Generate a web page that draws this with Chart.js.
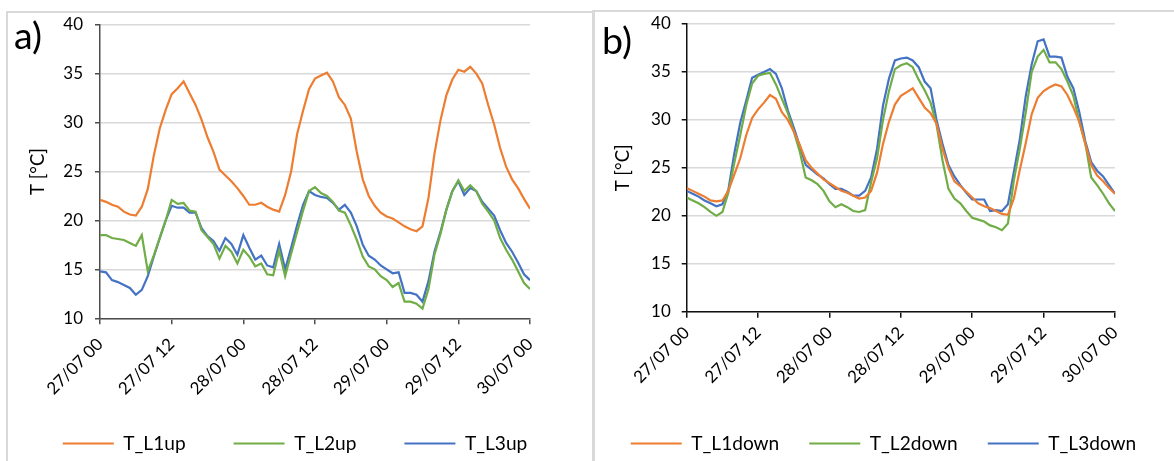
<!DOCTYPE html>
<html>
<head>
<meta charset="utf-8">
<script src="https://cdn.jsdelivr.net/npm/chart.js@4.4.1/dist/chart.umd.min.js"></script>
<style>
  html, body { margin:0; padding:0; width:1174px; height:461px; overflow:hidden; background:#fff; }
  .panel { position:absolute; border:2px solid #d9d9d9; box-sizing:border-box; }
  .tag { position:absolute; font-family:Lato, sans-serif; line-height:1; color:#000; }
  canvas { position:absolute; top:0; }
</style>
</head>
<body>
<div class="panel" style="left:6px;top:11px;width:589px;height:480px;"></div>
<div class="panel" style="left:592px;top:10px;width:600px;height:480px;"></div>
<canvas id="ca" width="590" height="463" style="left:0px;"></canvas>
<canvas id="cb" width="581" height="463" style="left:593px;"></canvas>
<div class="tag" id="ta" style="left:14px;top:16px;">a)</div>
<div class="tag" id="tb" style="left:602px;top:21px;">b)</div>
<script>
const hours = [];
for (let h = 0; h <= 72; h++) hours.push(h);
const tickLabels = ['27/07 00','27/07 12','28/07 00','28/07 12','29/07 00','29/07 12','30/07 00'];

const namesA = ['T_L1up','T_L2up','T_L3up'];
const namesB = ['T_L1down','T_L2down','T_L3down'];
const colors = ['#ED7D31','#70AD47','#4472C4'];

const T_L1up = [22.1,21.9,21.6,21.4,20.9,20.6,20.5,21.4,23.2,26.6,29.4,31.3,32.9,33.5,34.2,33.0,31.8,30.3,28.5,27.0,25.2,24.6,24.0,23.3,22.5,21.6,21.6,21.8,21.4,21.1,20.9,22.6,25.0,28.8,31.2,33.4,34.5,34.8,35.1,34.2,32.6,31.8,30.4,27.0,24.2,22.5,21.5,20.8,20.4,20.2,19.8,19.4,19.1,18.9,19.4,22.3,26.8,30.2,32.8,34.4,35.4,35.2,35.7,35.0,34.0,31.8,29.8,27.4,25.5,24.2,23.3,22.2,21.2];
const T_L2up = [18.5,18.5,18.2,18.1,18.0,17.7,17.4,18.5,14.8,16.4,18.2,20.0,22.1,21.7,21.8,21.0,20.9,19.0,18.3,17.6,16.1,17.4,16.8,15.6,17.0,16.3,15.3,15.6,14.5,14.4,16.9,14.3,16.6,18.8,21.0,23.0,23.4,22.8,22.5,21.9,21.0,20.8,19.5,18.0,16.3,15.3,15.0,14.3,13.9,13.2,13.6,11.7,11.7,11.5,11.0,13.0,16.5,18.6,21.1,23.0,24.1,23.0,23.6,23.0,21.7,20.9,20.0,18.2,17.0,16.0,14.8,13.6,13.0];
const T_L3up = [14.8,14.7,13.9,13.7,13.4,13.1,12.4,12.9,14.3,16.3,18.2,20.0,21.5,21.3,21.3,20.8,20.8,19.2,18.4,17.9,16.9,18.2,17.6,16.5,18.5,17.2,16.0,16.4,15.4,15.2,17.6,15.0,17.2,19.5,21.6,23.0,22.6,22.4,22.3,21.8,21.1,21.6,20.8,19.4,17.5,16.4,16.0,15.4,15.0,14.6,14.7,12.6,12.6,12.4,11.7,13.8,16.8,18.8,21.1,23.0,24.0,22.6,23.3,23.0,21.9,21.2,20.5,19.0,17.7,16.8,15.7,14.5,13.9];

const T_L1down = [22.9,22.6,22.3,22.0,21.6,21.5,21.6,22.6,24.3,26.0,28.4,30.2,31.1,31.8,32.6,32.2,30.8,30.0,28.8,27.4,25.8,25.0,24.4,23.8,23.4,23.0,22.6,22.4,22.1,21.8,21.9,22.6,24.5,27.5,29.8,31.6,32.5,32.9,33.3,32.3,31.3,30.7,29.6,27.0,25.0,23.6,23.1,22.5,21.9,21.3,21.0,20.8,20.5,20.2,20.1,21.8,24.8,27.6,30.6,32.3,33.0,33.4,33.7,33.5,32.6,31.3,29.8,27.5,25.3,24.2,23.6,22.9,22.3];
const T_L2down = [21.9,21.6,21.3,20.9,20.4,20.0,20.4,22.4,25.5,28.4,31.5,33.8,34.6,34.8,34.9,33.7,32.2,30.7,28.8,26.7,24.0,23.7,23.3,22.6,21.5,20.9,21.2,20.9,20.5,20.4,20.6,23.5,26.0,30.0,33.0,35.3,35.7,35.9,35.5,34.2,33.1,31.8,29.5,25.8,22.8,21.8,21.3,20.5,19.8,19.6,19.4,19.0,18.8,18.5,19.2,23.7,27.0,30.8,35.0,36.6,37.3,36.0,36.0,35.3,34.0,32.5,29.8,27.6,24.0,23.2,22.3,21.3,20.5];
const T_L3down = [22.6,22.3,22.0,21.6,21.3,21.0,21.2,22.7,26.5,29.7,32.0,34.4,34.7,35.0,35.3,34.8,33.3,31.0,29.2,27.3,25.3,24.8,24.3,23.9,23.3,22.8,22.8,22.5,22.1,22.1,22.6,24.0,27.0,31.5,34.3,36.2,36.4,36.5,36.2,35.5,34.0,33.3,30.0,27.5,25.3,24.1,23.2,22.4,21.7,21.7,21.7,20.5,20.6,20.5,21.2,24.6,28.0,32.5,35.8,38.2,38.4,36.6,36.6,36.5,34.5,33.3,30.8,27.8,25.6,24.7,24.1,23.2,22.3];

const yMin = 10, yMax = 40, yStep = 5, xStep = 12;

const FAM = 'Lato, sans-serif';
const mctx = document.createElement('canvas').getContext('2d');
function fitSize(text, target) {
  mctx.font = '100px ' + FAM;
  return 100 * target / mctx.measureText(text).width;
}
const tickSize = fitSize('27/07 00', 71);
const legSize = fitSize('T_L1down', 88);
const titleSize = fitSize('T [°C]', 47);
document.getElementById('ta').style.fontSize = fitSize('a)', 28) + 'px';
document.getElementById('tb').style.fontSize = fitSize('b)', 30) + 'px';

// lets the rotated tick labels extend below the x scale box (legend sits under them)
const unclipX = { id: 'unclipX', afterLayout(chart) { chart.scales.x.bottom = chart.height; } };

function build(id, names, series, cfg) {
  const H = document.getElementById(id).height;
  const legPad = cfg.legPad;
  const legendH = legSize + legPad + 10;
  const xH = H - legendH - cfg.plotBottom;
  return new Chart(document.getElementById(id), {
    type: 'line',
    data: {
      datasets: names.map((n, i) => ({
        label: n,
        data: hours.map((h, j) => ({ x: h, y: series[i][j] })),
        borderColor: colors[i],
        backgroundColor: colors[i],
        borderWidth: 2.2,
        pointRadius: 0,
        tension: 0,
        fill: false,
        yAxisID: 'y'
      }))
    },
    plugins: [unclipX],
    options: {
      responsive: false,
      animation: false,
      events: [],
      layout: { padding: { left: 0, right: 0, top: cfg.padT, bottom: 0 } },
      plugins: {
        tooltip: { enabled: false },
        legend: {
          position: 'bottom',
          labels: {
            boxWidth: 51, boxHeight: 2, padding: legPad, color: '#000',
            font: { family: FAM, size: legSize },
            generateLabels: (chart) => Chart.defaults.plugins.legend.labels.generateLabels(chart).map(l => Object.assign(l, { lineWidth: 0 }))
          }
        }
      },
      scales: {
        x: {
          type: 'linear', min: 0, max: 72,
          ticks: { stepSize: xStep, autoSkip: false, maxRotation: 45, minRotation: 45, padding: cfg.xTickPad, color: '#000',
                   font: { family: FAM, size: tickSize }, callback: v => tickLabels[v / xStep] },
          grid: { drawOnChartArea: false, tickLength: 6, tickColor: cfg.axis, lineWidth: 1.5 },
          border: { color: cfg.axis, width: 1.5 },
          afterFit: s => { s.height = xH; }
        },
        y: {
          position: 'left',
          min: yMin, max: yMax,
          ticks: { stepSize: yStep, padding: cfg.tickPad, color: '#000', font: { family: FAM, size: tickSize } },
          grid: { color: '#d9d9d9', lineWidth: 1.5, tickLength: 5, tickColor: cfg.axis },
          border: { color: cfg.axis, width: 1.5 },
          title: { display: true, text: 'T [°C]', color: '#000', font: { family: FAM, size: titleSize },
                   padding: { top: cfg.titleX - 0.6 * titleSize, bottom: 0 } },
          afterFit: s => { s.width = cfg.yW; }
        },
        yR: {
          position: 'right',
          display: true,
          ticks: { display: false },
          grid: { display: false, drawOnChartArea: false },
          border: { display: false },
          afterFit: s => { s.width = cfg.rW; }
        }
      }
    }
  });
}

build('ca', namesA, [T_L1up, T_L2up, T_L3up],
  { yW: 100, rW: 60, titleX: 38, padT: 24.7, plotBottom: 318.3, legPad: 48, tickPad: 12, xTickPad: 10, axis: '#4d4d4d' });
build('cb', namesB, [T_L1down, T_L2down, T_L3down],
  { yW: 93.7, rW: 59, titleX: 30, padT: 24, plotBottom: 311.7, legPad: 30, tickPad: 11, xTickPad: 5, axis: '#111' });
</script>
</body>
</html>
